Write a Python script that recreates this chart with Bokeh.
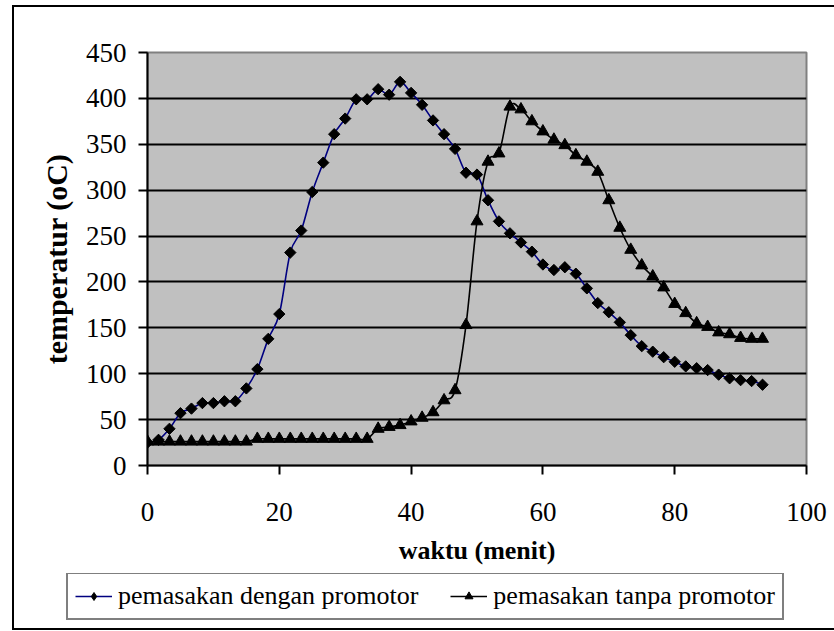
import numpy as np
from bokeh.plotting import figure
from bokeh.layouts import column
from bokeh.models import Range1d, FixedTicker, Legend, LegendItem
from bokeh.embed import file_html
from bokeh.resources import INLINE

# ---- data ----
time_min = [0, 1.67, 3.33, 5, 6.67, 8.33, 10, 11.67, 13.33, 15,
            16.67, 18.33, 20, 21.67, 23.33, 25, 26.67, 28.33, 30, 31.67,
            33.33, 35, 36.67, 38.33, 40, 41.67, 43.33, 45, 46.67, 48.33,
            50, 51.67, 53.33, 55, 56.67, 58.33, 60, 61.67, 63.33, 65,
            66.67, 68.33, 70, 71.67, 73.33, 75, 76.67, 78.33, 80, 81.67,
            83.33, 85, 86.67, 88.33, 90, 91.67, 93.33]

temp_with_promotor = [25, 28, 40, 57, 62, 68, 68, 70, 70, 84,
                      105, 138, 165, 232, 256, 298, 330, 361, 378, 399,
                      399, 410, 404, 418, 406, 393, 376, 361, 345, 319,
                      317, 289, 266, 253, 243, 233, 219, 213, 216, 209,
                      193, 177, 167, 156, 142, 130, 124, 118, 113, 108,
                      106, 104, 99, 95, 93, 92, 88]

temp_without_promotor = [26, 26, 26, 26, 26, 26, 26, 26, 26, 26,
                         29, 29, 29, 29, 29, 29, 29, 29, 29, 29,
                         29, 40, 42, 44, 48, 52, 58, 71, 82, 153,
                         266, 331, 340, 391, 388, 375, 364, 355, 349, 338,
                         331, 320, 289, 259, 235, 218, 206, 194, 176, 166,
                         155, 151, 145, 143, 139, 138, 138]

series_labels = ["pemasakan dengan promotor", "pemasakan tanpa promotor"]
x_ticks = [0, 20, 40, 60, 80, 100]
y_ticks = [0, 50, 100, 150, 200, 250, 300, 350, 400, 450]
x_title = "waktu (menit)"
y_title = "temperatur (oC)"

FONT = "Liberation Serif"
NAVY = "#000080"


def smooth_segments(x, y):
    """Catmull-Rom style bezier control points (like a smoothed spreadsheet line)."""
    x = np.asarray(x, float)
    y = np.asarray(y, float)
    n = len(x)
    xp = np.concatenate([[x[0]], x, [x[-1]]])
    yp = np.concatenate([[y[0]], y, [y[-1]]])
    cx0 = x[:-1] + (xp[2:n + 1] - xp[0:n - 1]) / 6.0
    cy0 = y[:-1] + (yp[2:n + 1] - yp[0:n - 1]) / 6.0
    cx1 = x[1:] - (xp[3:n + 2] - xp[1:n]) / 6.0
    cy1 = y[1:] - (yp[3:n + 2] - yp[1:n]) / 6.0
    return dict(x0=x[:-1], y0=y[:-1], x1=x[1:], y1=y[1:],
                cx0=cx0, cy0=cy0, cx1=cx1, cy1=cy1)


# ---------------- main chart ----------------
p = figure(width=820, height=566, output_backend="svg", toolbar_location=None,
           x_range=Range1d(x_ticks[0], x_ticks[-1]),
           y_range=Range1d(y_ticks[0], y_ticks[-1]),
           min_border_left=133, min_border_right=28,
           min_border_top=45, min_border_bottom=108,
           background_fill_color="#C0C0C0", border_fill_color="white",
           outline_line_color="#808080", outline_line_width=2)
p.frame_align = False

p.xgrid.visible = False
p.ygrid.ticker = FixedTicker(ticks=y_ticks[1:-1])
p.ygrid.grid_line_color = "black"
p.ygrid.grid_line_width = 2

for ax in (p.xaxis[0], p.yaxis[0]):
    ax.axis_line_color = "black"
    ax.axis_line_width = 2
    ax.major_tick_line_color = "black"
    ax.major_tick_line_width = 2
    ax.major_tick_in = 0
    ax.major_tick_out = 9
    ax.minor_tick_line_color = None
    ax.major_label_text_font = FONT
    ax.major_label_text_font_size = "27px"
    ax.major_label_text_color = "black"
    ax.axis_label_text_font = FONT
    ax.axis_label_text_font_style = "bold"
    ax.axis_label_text_color = "black"

p.xaxis.ticker = FixedTicker(ticks=x_ticks)
p.yaxis.ticker = FixedTicker(ticks=y_ticks)
p.xaxis.major_label_standoff = 28
p.yaxis.major_label_standoff = 12
p.xaxis.axis_label = x_title
p.yaxis.axis_label = y_title
p.xaxis.axis_label_text_font_size = "26px"
p.yaxis.axis_label_text_font_size = "30px"
p.xaxis.axis_label_standoff = 12
p.yaxis.axis_label_standoff = 10

p.bezier(source=smooth_segments(time_min, temp_with_promotor),
         x0="x0", y0="y0", x1="x1", y1="y1",
         cx0="cx0", cy0="cy0", cx1="cx1", cy1="cy1",
         line_color=NAVY, line_width=1.6)
p.scatter(time_min, temp_with_promotor, marker="square", size=8,
          angle=np.pi / 4, fill_color="black", line_color="black")

p.bezier(source=smooth_segments(time_min, temp_without_promotor),
         x0="x0", y0="y0", x1="x1", y1="y1",
         cx0="cx0", cy0="cy0", cx1="cx1", cy1="cy1",
         line_color="black", line_width=1.6)
p.scatter(time_min, temp_without_promotor, marker="triangle", size=12,
          fill_color="black", line_color="black")

# ---------------- legend strip (series proxies fall outside its view) ----------------
p2 = figure(width=820, height=55, output_backend="svg", toolbar_location=None,
            x_range=Range1d(-2, -1), y_range=Range1d(-2, -1),
            x_axis_type=None, y_axis_type=None,
            min_border=0, outline_line_color=None,
            background_fill_color="white", border_fill_color="white")
p2.frame_align = False
p2.grid.visible = False

l1 = p2.line(time_min, temp_with_promotor, line_color=NAVY, line_width=1.6)
m1 = p2.scatter(time_min, temp_with_promotor, marker="diamond", size=14,
                fill_color="black", line_color="black")
l2 = p2.line(time_min, temp_without_promotor, line_color="black", line_width=1.6)
m2 = p2.scatter(time_min, temp_without_promotor, marker="triangle", size=11,
                fill_color="black", line_color="black")

legend = Legend(items=[LegendItem(label=series_labels[0], renderers=[l1, m1]),
                       LegendItem(label=series_labels[1], renderers=[l2, m2])],
                orientation="horizontal", location=(52, 8),
                label_text_font=FONT, label_text_font_size="26px",
                label_text_color="black",
                glyph_width=37, glyph_height=20, label_standoff=6,
                spacing=32, padding=7, margin=0,
                border_line_color="black", border_line_width=2,
                background_fill_color="white", background_fill_alpha=1.0)
p2.add_layout(legend)

layout = column(p, p2, spacing=0)
layout.styles = {"position": "relative", "left": "12px", "top": "5px",
                 "border-left": "2px solid black", "border-top": "2px solid black",
                 "border-bottom": "2px solid black"}

open("out.html", "w").write(file_html(layout, INLINE))
